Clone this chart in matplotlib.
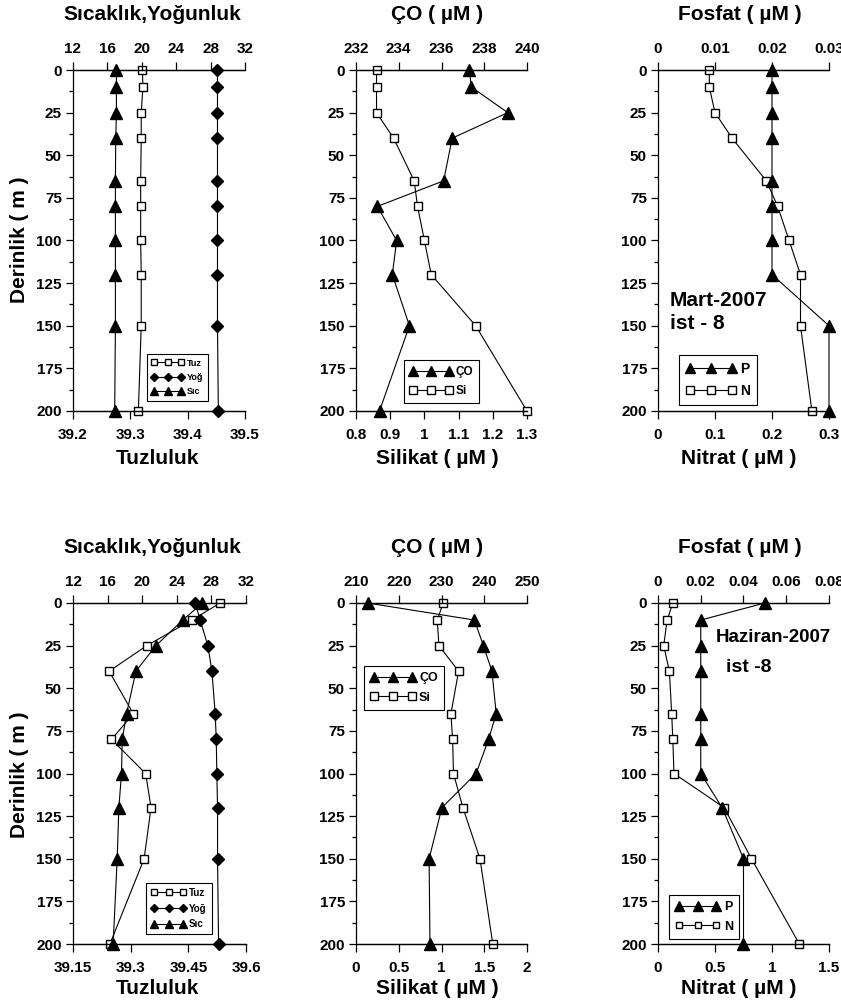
import numpy as np
import matplotlib
matplotlib.use("Agg")
import matplotlib.pyplot as plt
from matplotlib.ticker import FuncFormatter, MultipleLocator

plt.rcParams['font.family'] = ['Liberation Sans', 'DejaVu Sans']
plt.rcParams['font.weight'] = 'bold'

# Depths (m) shared by every profile
depth = [0, 10, 25, 40, 65, 80, 100, 120, 150, 200]

# Mart-2007, ist-8
tuz_mart = [39.321, 39.322, 39.319, 39.319, 39.318, 39.318, 39.318, 39.319, 39.319, 39.314]
yog_mart = [28.8, 28.8, 28.8, 28.8, 28.8, 28.8, 28.8, 28.8, 28.8, 28.9]
sic_mart = [17.05, 17.05, 17.05, 16.97, 16.93, 16.93, 16.93, 16.93, 16.93, 16.85]
co_mart = [237.3, 237.4, 239.1, 236.5, 236.1, 233.0, 233.9, 233.7, 234.5, 233.1]
si_mart = [0.86, 0.86, 0.86, 0.91, 0.97, 0.98, 1.00, 1.02, 1.15, 1.30]
p_mart = [0.02, 0.02, 0.02, 0.02, 0.02, 0.02, 0.02, 0.02, 0.03, 0.03]
n_mart = [0.09, 0.09, 0.10, 0.13, 0.19, 0.21, 0.23, 0.25, 0.25, 0.27]

# Haziran-2007, ist-8
tuz_haz = [39.533, 39.459, 39.342, 39.244, 39.307, 39.250, 39.339, 39.353, 39.335, 39.246]
yog_haz = [26.12, 26.70, 27.59, 28.06, 28.44, 28.56, 28.63, 28.71, 28.71, 28.83]
sic_haz = [26.97, 24.69, 21.59, 19.27, 18.19, 17.69, 17.61, 17.30, 17.11, 16.64]
co_haz = [212.7, 237.7, 239.8, 241.8, 242.8, 241.0, 238.1, 230.1, 227.1, 227.3]
si_haz = [1.02, 0.95, 0.97, 1.20, 1.11, 1.13, 1.14, 1.25, 1.45, 1.60]
p_haz = [0.050, 0.020, 0.020, 0.020, 0.020, 0.020, 0.020, 0.030, 0.040, 0.040]
n_haz = [0.13, 0.08, 0.05, 0.10, 0.12, 0.13, 0.14, 0.58, 0.82, 1.24]

# axis ticks
depth_ticks = [0, 25, 50, 75, 100, 125, 150, 175, 200]
temp_ticks = [12, 16, 20, 24, 28, 32]
tuz_ticks_mart = [39.2, 39.3, 39.4, 39.5]
tuz_ticks_haz = [39.15, 39.3, 39.45, 39.6]
co_ticks_mart = [232, 234, 236, 238, 240]
si_ticks_mart = [0.8, 0.9, 1.0, 1.1, 1.2, 1.3]
co_ticks_haz = [210, 220, 230, 240, 250]
si_ticks_haz = [0, 0.5, 1, 1.5, 2]
p_ticks_mart = [0, 0.01, 0.02, 0.03]
n_ticks_mart = [0, 0.1, 0.2, 0.3]
p_ticks_haz = [0, 0.02, 0.04, 0.06, 0.08]
n_ticks_haz = [0, 0.5, 1, 1.5]

W, H = 841, 1005
fig = plt.figure(figsize=(W / 100, H / 100), dpi=100)

SQ = dict(marker='s', ms=5.5, mfc='white', mec='black', mew=1.0)
TRI = dict(marker='^', ms=8, mfc='black', mec='black')
DIA = dict(marker='D', ms=6, mfc='black', mec='black')
fmt = FuncFormatter(lambda v, p: '%g' % v)


def px_axes(x0, y0, x1, y1):
    return fig.add_axes([x0 / W, 1 - y1 / H, (x1 - x0) / W, (y1 - y0) / H])


def panel(rect, bot_ticks, top_ticks, bot_series, top_series, order,
          leg_anchor, leg_size, mscale=0.8):
    ax = px_axes(*rect)
    ax2 = ax.twiny()
    handles = {}
    for lab, vals, st in bot_series:
        handles[lab], = ax.plot(vals, depth, color='black', lw=0.8,
                                clip_on=False, label=lab, **st)
    for lab, vals, st in top_series:
        handles[lab], = ax2.plot(vals, depth, color='black', lw=0.8,
                                 clip_on=False, label=lab, **st)
    ax.set_xlim(bot_ticks[0], bot_ticks[-1])
    ax2.set_xlim(top_ticks[0], top_ticks[-1])
    ax.set_ylim(200, 0)
    ax.set_xticks(bot_ticks)
    ax2.set_xticks(top_ticks)
    ax.xaxis.set_major_formatter(fmt)
    ax2.xaxis.set_major_formatter(fmt)
    ax.set_yticks(depth_ticks)
    ax.yaxis.set_minor_locator(MultipleLocator(12.5))
    for a in (ax, ax2):
        a.spines['right'].set_visible(False)
        for s in a.spines.values():
            s.set_linewidth(0.9)
    ax2.spines['left'].set_visible(False)
    ax.tick_params(axis='x', direction='out', length=6, width=0.9,
                   pad=6, labelsize=11)
    ax2.tick_params(axis='x', direction='out', length=6, width=0.9,
                    pad=4, labelsize=11)
    ax.tick_params(axis='y', which='major', direction='out', length=5,
                   width=0.9, pad=3, labelsize=11)
    ax.tick_params(axis='y', which='minor', direction='out', length=3,
                   width=0.9)
    leg = ax2.legend([handles[k] for k in order], order, loc='upper left',
                     bbox_to_anchor=leg_anchor, numpoints=3,
                     markerscale=mscale, handlelength=3.6,
                     fontsize=leg_size, fancybox=False,
                     framealpha=1, edgecolor='black', borderpad=0.5,
                     labelspacing=0.6, handletextpad=0.3,
                     borderaxespad=0)
    leg.get_frame().set_linewidth(0.8)
    return ax, ax2


top = (70, 411)
bot = (603, 944)

# ---- Mart row ----
panel((73, top[0], 245, top[1]), tuz_ticks_mart, temp_ticks,
      [('Tuz', tuz_mart, SQ)],
      [('Yoğ', yog_mart, DIA), ('Sıc', sic_mart, TRI)],
      ['Tuz', 'Yoğ', 'Sıc'], (0.43, 0.167), 6.5, 0.7)
panel((356, top[0], 527, top[1]), si_ticks_mart, co_ticks_mart,
      [('Si', si_mart, SQ)], [('ÇO', co_mart, TRI)],
      ['ÇO', 'Si'], (0.28, 0.15), 8.5, 0.95)
ax3, _ = panel((658, top[0], 829, top[1]), n_ticks_mart, p_ticks_mart,
               [('N', n_mart, SQ)], [('P', p_mart, TRI)],
               ['P', 'N'], (0.123, 0.165), 10, 0.95)
ax3.text(0.07, 0.29, 'Mart-2007\nist - 8', transform=ax3.transAxes,
         fontsize=15, fontweight='bold', va='center', ha='left',
         linespacing=1.25)

# ---- Haziran row ----
panel((73, bot[0], 246, bot[1]), tuz_ticks_haz, temp_ticks,
      [('Tuz', tuz_haz, SQ)],
      [('Yoğ', yog_haz, DIA), ('Sıc', sic_haz, TRI)],
      ['Tuz', 'Yoğ', 'Sıc'], (0.424, 0.179), 7, 0.7)
panel((356, bot[0], 527, bot[1]), si_ticks_haz, co_ticks_haz,
      [('Si', si_haz, SQ)], [('ÇO', co_haz, TRI)],
      ['ÇO', 'Si'], (0.047, 0.815), 9, 0.95)
ax6, _ = panel((658, bot[0], 829, bot[1]), n_ticks_haz, p_ticks_haz,
               [('N', n_haz, SQ)], [('P', p_haz, TRI)],
               ['P', 'N'], (0.064, 0.144), 9, 0.9)
ax6.text(0.34, 0.90, 'Haziran-2007', transform=ax6.transAxes,
         fontsize=13.5, fontweight='bold', va='center', ha='left')
ax6.text(0.40, 0.812, 'ist -8', transform=ax6.transAxes,
         fontsize=14, fontweight='bold', va='center', ha='left')

# titles and axis labels placed in figure pixels
def ftext(x, y, s, **kw):
    fig.text(x / W, 1 - y / H, s, ha='center', va='center',
             fontsize=15, fontweight='bold', **kw)

for yt, yb in ((15, 458), (547, 988)):
    ftext(152, yt, 'Sıcaklık,Yoğunluk')
    ftext(437, yt, 'ÇO ( µM )')
    ftext(740, yt, 'Fosfat ( µM )')
    ftext(157, yb, 'Tuzluluk')
    ftext(437, yb, 'Silikat ( µM )')
    ftext(739, yb, 'Nitrat ( µM )')
ftext(20, 240, 'Derinlik ( m )', rotation=90)
ftext(20, 775, 'Derinlik ( m )', rotation=90)

fig.savefig('out.png', dpi=100)
